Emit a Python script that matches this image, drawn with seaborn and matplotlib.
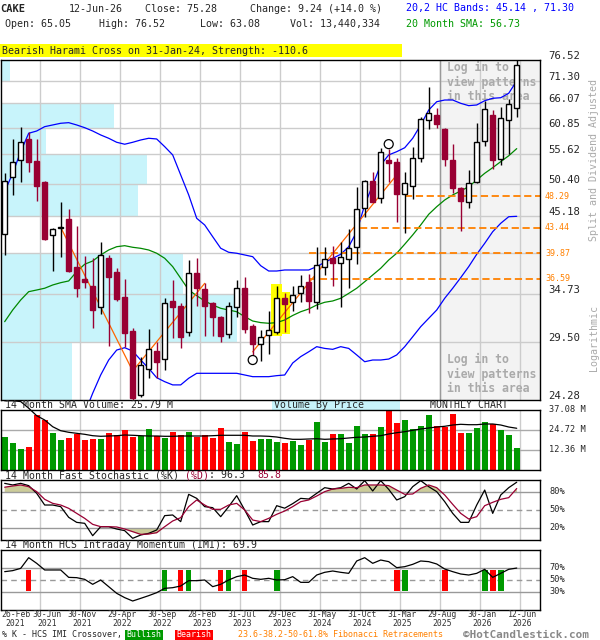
import numpy as np
import matplotlib
matplotlib.use("Agg")
import matplotlib.pyplot as plt
from matplotlib.patches import Rectangle
from matplotlib.ticker import NullLocator
from matplotlib.transforms import blended_transform_factory, ScaledTranslation
import seaborn as sns

# monthly candles, Feb 2021 .. Jun 2026 (index 0..64)
opens = [42.53, 51.61, 54.55, 58.61, 54.42, 50.74, 42.39, 43.45, 44.73, 38.05,
         36.54, 35.73, 33.27, 39.26, 37.45, 34.35, 30.65, 24.70, 26.96, 28.64,
         27.86, 33.92, 33.35, 30.57, 37.24, 35.32, 33.66, 32.10, 30.31, 33.21,
         35.41, 31.17, 29.36, 30.23, 30.57, 34.23, 33.77, 34.81, 36.14, 33.84,
         38.05, 39.26, 38.53, 39.08, 40.73, 46.38, 50.86, 47.97, 54.60, 54.18,
         48.63, 50.02, 54.91, 62.49, 63.57, 60.62, 54.60, 49.73, 47.38, 50.63,
         58.22, 63.56, 54.73, 62.49, 65.05]
highs = [52.26, 58.61, 61.10, 59.95, 58.61, 50.86, 43.44, 47.43, 46.27, 43.69,
         39.49, 39.17, 41.35, 39.62, 37.96, 36.54, 30.99, 28.10, 30.86, 29.56,
         34.23, 36.37, 33.66, 38.95, 39.26, 36.00, 33.84, 32.25, 33.77, 36.41,
         36.82, 31.38, 30.75, 32.79, 35.73, 34.81, 35.73, 37.03, 37.16, 40.73,
         40.65, 40.87, 41.35, 43.25, 49.78, 51.03, 52.36, 56.84, 56.60, 55.03,
         52.36, 57.03, 63.08, 69.79, 65.01, 60.90, 57.58, 49.90, 52.78, 61.78,
         66.62, 64.63, 65.37, 67.07, 76.52]
lows = [39.62, 48.52, 50.74, 52.48, 47.59, 41.67, 37.57, 39.39, 37.37, 34.35,
        35.41, 30.93, 32.43, 29.17, 33.95, 29.07, 24.28, 24.50, 26.18, 26.18,
        26.87, 29.90, 28.90, 30.13, 33.38, 30.16, 30.16, 29.50, 29.96, 32.10,
        30.49, 28.27, 27.70, 28.34, 30.31, 30.53, 32.79, 33.84, 32.61, 33.01,
        37.03, 35.73, 33.27, 35.41, 38.39, 45.08, 47.34, 47.18, 50.74, 44.33,
        42.71, 47.86, 54.29, 60.62, 60.90, 53.51, 48.79, 43.00, 46.48, 50.46,
        57.30, 52.96, 53.72, 55.66, 63.08]
closes = [50.86, 54.18, 57.96, 54.29, 50.07, 41.81, 43.25, 43.50, 37.53, 35.41,
          36.20, 32.90, 39.62, 36.82, 34.11, 30.41, 24.42, 27.33, 28.84, 27.57,
          33.66, 33.21, 30.06, 37.24, 35.48, 33.38, 32.17, 30.16, 33.35, 35.41,
          30.86, 29.36, 30.06, 30.72, 34.23, 33.61, 34.61, 35.69, 33.92, 38.30,
          39.08, 38.61, 39.39, 40.52, 46.22, 50.81, 47.43, 56.15, 53.99, 48.63,
          50.46, 55.03, 62.64, 63.92, 61.59, 54.73, 49.73, 47.59, 50.46, 57.96,
          64.85, 54.60, 62.85, 66.04, 75.28]
volume_m = [20.58, 16.87, 13.16, 14.40, 33.99, 30.90, 22.87, 18.54, 19.98, 22.25,
            18.54, 19.36, 19.36, 22.87, 21.84, 24.93, 20.39, 21.22, 25.55, 20.81,
            19.78, 23.69, 21.42, 23.69, 20.58, 21.42, 19.78, 26.16, 17.51, 16.26,
            23.69, 18.13, 19.36, 19.36, 17.51, 16.87, 18.13, 15.65, 18.75, 29.87,
            17.51, 22.45, 22.45, 16.87, 27.40, 22.45, 22.45, 26.78, 36.67, 29.25,
            31.11, 25.55, 27.40, 34.19, 27.40, 26.78, 34.81, 23.07, 23.07, 26.16,
            29.87, 28.63, 24.93, 21.84, 13.44]
vol_sma_m = [42.8, 42.8, 42.3, 38.2, 33.56, 30.90, 26.76, 24.29, 23.30, 22.68,
             22.06, 21.20, 20.83, 21.01, 21.20, 21.63, 21.45, 21.20, 21.01, 21.01,
             20.83, 20.83, 21.01, 21.01, 21.01, 21.01, 21.20, 21.45, 21.45, 21.45,
             21.45, 21.01, 21.01, 20.83, 20.39, 19.59, 18.97, 18.97, 19.16, 19.34,
             18.97, 19.16, 19.34, 19.78, 20.21, 20.39, 20.83, 21.20, 22.25, 23.05,
             23.67, 24.53, 25.34, 25.96, 26.57, 27.01, 27.81, 28.24, 28.00, 28.00,
             28.43, 28.43, 27.81, 26.57, 25.79]
band_upper = [49.06, 52.20, 56.15, 59.75, 60.21, 61.10, 61.45, 61.80, 61.93, 61.45,
              60.89, 60.21, 59.41, 58.75, 57.96, 57.58, 57.96, 58.41, 58.75, 58.61,
              57.11, 55.54, 51.91, 48.52, 44.84, 43.84, 42.14, 40.53, 39.98, 39.85,
              39.62, 39.39, 38.21, 37.53, 37.53, 37.66, 37.66, 37.66, 37.66, 38.09,
              38.65, 39.17, 39.71, 40.74, 42.86, 46.91, 50.19, 53.69, 55.54, 56.15,
              56.90, 58.75, 61.45, 64.63, 66.47, 66.85, 66.85, 66.11, 65.59, 65.74,
              66.69, 67.24, 67.37, 68.39, 71.30]
sma20 = [31.63, 32.90, 34.03, 35.00, 35.20, 35.41, 35.80, 36.08, 36.29, 37.45,
         38.40, 38.82, 39.62, 40.29, 40.74, 40.88, 40.66, 40.52, 40.29, 39.85,
         39.18, 38.09, 36.62, 35.20, 34.53, 33.92, 33.46, 33.09, 32.90, 32.71,
         32.17, 31.70, 31.53, 31.46, 31.53, 31.81, 32.30, 32.71, 33.01, 33.46,
         33.77, 33.92, 34.23, 34.80, 35.41, 36.20, 37.03, 37.88, 38.95, 39.85,
         41.08, 42.39, 43.84, 45.45, 46.63, 47.70, 48.52, 49.17, 49.90, 51.03,
         52.20, 53.20, 54.29, 55.38, 56.73]
lower_x = list(range(10, 65))
band_lower = [23.2, 24.84, 26.42, 27.79, 28.74, 28.97, 28.64, 27.79, 27.02, 26.18,
              25.83, 25.55, 25.55, 26.13, 26.57, 26.57, 26.57, 26.57, 26.57, 26.57,
              26.42, 26.27, 26.27, 26.27, 26.36, 26.42, 27.51, 28.11, 28.57, 29.07,
              28.90, 28.81, 29.07, 28.90, 28.27, 27.63, 27.79, 27.79, 27.88, 28.27,
              29.07, 30.06, 31.10, 31.99, 32.90, 34.23, 35.41, 36.70, 38.09, 39.71,
              41.21, 42.86, 44.09, 45.08, 45.14]
stoch_k = [94.4, 91.7, 94.4, 90.6, 77.8, 58.3, 58.3, 55.6, 37.8, 29.4,
           27.8, 7.2, 22.2, 22.2, 18.3, 15.6, 2.8, 8.3, 11.1, 16.7,
           40.6, 41.7, 30.6, 76.1, 69.4, 55.6, 53.9, 38.9, 55.6, 73.9,
           50.0, 25.0, 30.6, 30.6, 57.2, 53.0, 60.6, 69.4, 68.3, 77.8,
           87.2, 85.0, 87.2, 94.4, 85.0, 98.9, 81.7, 98.9, 84.4, 66.7,
           72.2, 88.9, 98.9, 88.9, 80.6, 63.9, 44.4, 29.4, 29.4, 58.3,
           83.3, 44.4, 75.0, 87.2, 96.3]
stoch_d = [88.0, 90.0, 91.7, 88.9, 80.6, 67.8, 61.1, 58.3, 52.8, 44.4,
           36.1, 26.1, 22.2, 22.2, 21.7, 18.3, 13.9, 9.4, 10.0, 12.2,
           22.2, 31.7, 37.2, 55.6, 66.7, 58.3, 51.1, 51.1, 58.3, 61.1,
           50.0, 33.3, 30.6, 36.1, 42.8, 48.3, 55.6, 63.9, 66.7, 73.3,
           80.6, 85.0, 86.1, 87.8, 87.2, 91.7, 91.7, 91.7, 90.6, 83.3,
           76.1, 76.7, 86.1, 91.7, 87.2, 75.0, 59.4, 44.4, 35.0, 38.9,
           57.2, 62.8, 67.8, 70.6, 85.8]
imi = [63.9, 65.6, 69.4, 87.2, 77.8, 66.7, 66.7, 66.7, 54.4, 53.9,
       51.1, 42.8, 50.0, 38.9, 27.8, 20.6, 15.0, 19.4, 23.9, 28.9,
       36.1, 37.2, 40.0, 48.9, 48.9, 50.0, 38.9, 42.8, 50.0, 55.6,
       58.3, 52.8, 51.1, 52.8, 50.0, 50.5, 55.6, 46.1, 46.1, 58.3,
       62.8, 65.0, 62.8, 61.1, 81.7, 87.2, 77.8, 83.3, 80.6, 70.6,
       72.2, 76.1, 81.7, 80.6, 76.7, 68.3, 63.9, 60.0, 58.3, 61.1,
       67.8, 54.4, 61.1, 67.8, 69.9]
bullish_x = [20, 23, 28, 34, 50, 60, 62]
bearish_x = [3, 22, 27, 30, 49, 55, 61]
pattern_x = [34, 35]
circle_x = [31, 48]
circle_y = [27.79, 57.6]
trend_segments = [([7, 16], [43.50, 26.78]),
                  ([16, 25], [26.78, 36.00]),
                  ([31, 49], [28.57, 51.91])]
fib_levels = [48.29, 43.44, 39.87, 36.59]
fib_start = [50, 44.4, 38, 38]
price_ticks = [24.28, 29.50, 34.73, 39.95, 45.18, 50.40, 55.62, 60.85, 66.07, 71.30, 76.52]
price_tick_labels = ["24.28", "29.50", "34.73", "", "45.18", "50.40", "55.62",
                     "60.85", "66.07", "71.30", "76.52"]
vbp_pct = [30, 100, 77, 0, 58, 62, 19, 48, 0.6, 4]
vol_ticks = [12.36, 24.72, 37.08]
date_idx = [0, 4, 9, 14, 19, 24, 29, 34, 39, 44, 49, 54, 59, 64]
date_labels = ["26-Feb\n2021", "30-Jun\n2021", "30-Nov\n2021", "29-Apr\n2022",
               "30-Sep\n2022", "28-Feb\n2023", "31-Jul\n2023", "29-Dec\n2023",
               "31-May\n2024", "31-Oct\n2024", "31-Mar\n2025", "29-Aug\n2025",
               "30-Jan\n2026", "12-Jun\n2026"]

MAROON = "#990033"
GREEN = "#009900"
RED = "#ff0000"
CYAN = "#c8f4fb"
ORANGE = "#ff8000"

sns.set_style("white")
plt.rcParams["font.family"] = ["DejaVu Sans Mono"]

W, H = 600, 640
fig = plt.figure(figsize=(W / 100, H / 100), dpi=100)


def add_panel(top, bottom):
    return fig.add_axes([1 / W, 1 - bottom / H, 539 / W, (bottom - top) / H])


def ftext(px, py, s, **kw):
    kw.setdefault("va", "center")
    kw.setdefault("fontsize", 7.2)
    fig.text(px / W, 1 - py / H, s, **kw)


def fbox(x0, y0, x1, y1, color):
    fig.add_artist(Rectangle((x0 / W, 1 - y1 / H), (x1 - x0) / W, (y1 - y0) / H,
                             transform=fig.transFigure, color=color, lw=0, zorder=0))


def px_shift(dx, dy=0):
    return ScaledTranslation(dx / 100, dy / 100, fig.dpi_scale_trans)


ax_p = add_panel(60, 400)
ax_v = add_panel(410, 470)
ax_s = add_panel(480, 540)
ax_i = add_panel(550, 610)

x = np.arange(len(closes))
xlim = (-0.46, 66.91)
grid_x = np.arange(4, 65, 5) + 0.45

# ---------------- price panel ----------------
ax_p.set_yscale("log")
ax_p.axvspan(54.45, xlim[1], color="#f3f3f3", lw=0, zorder=0.2)
lo = np.array(price_ticks[:-1])
hi = np.array(price_ticks[1:])
ax_p.barh(lo, np.array(vbp_pct) / 100 * 29.5, height=hi - lo, left=xlim[0],
          align="edge", color=CYAN, lw=0, zorder=0.4)
for v in price_ticks[1:-1]:
    ax_p.axhline(v, color="#cccccc", lw=1, zorder=0.6)
ax_p.axvline(54.45, color="#999999", lw=1, zorder=0.7)


def ptext(px, py, s, **kw):
    ax_p.text((px - 1) / 539, (400 - py) / 340, s, transform=ax_p.transAxes, **kw)


for j, line in enumerate(["Log in to", "view patterns", "in this area"]):
    for y0 in (67, 359):
        ptext(447, y0 + 15 * j, line, color="#aaaaaa", fontsize=8.3, fontweight="bold",
              va="center", ha="left", zorder=1.5, clip_on=True)

for i in pattern_x:
    ax_p.add_patch(Rectangle((i - 0.75, lows[i] / 1.006), 1.41,
                             highs[i] * 1.006 - lows[i] / 1.006,
                             color="#ffff00", lw=0, zorder=1))

sns.lineplot(x=x, y=band_upper, ax=ax_p, color="#0000ff", linewidth=0.9, zorder=2)
sns.lineplot(x=lower_x, y=band_lower, ax=ax_p, color="#0000ff", linewidth=0.9, zorder=2)
sns.lineplot(x=x, y=sma20, ax=ax_p, color="#008800", linewidth=0.9, zorder=2)
for tx, ty in trend_segments:
    sns.lineplot(x=tx, y=ty, ax=ax_p, color="#ff6600", linewidth=0.9, zorder=2)
for lvl, st in zip(fib_levels, fib_start):
    ax_p.hlines(lvl, st, xlim[1], colors=ORANGE, linestyles=(0, (4, 2)), lw=1.3, zorder=2)

for i in x:
    o, h, l, c = opens[i], highs[i], lows[i], closes[i]
    up = c >= o
    col = "black" if up else MAROON
    ax_p.vlines(i, l, h, color=col, lw=1, zorder=3)
    ax_p.add_patch(Rectangle((i - 0.33, min(o, c)), 0.66, abs(c - o),
                             facecolor="white" if up else col, edgecolor=col,
                             lw=1, zorder=4))
ax_p.scatter(circle_x, circle_y, s=42, facecolors="none", edgecolors="black",
             linewidths=0.9, zorder=5)

ax_p.set_ylim(price_ticks[0], price_ticks[-1])
ax_p.yaxis.set_minor_locator(NullLocator())
ax_p.set_yticks([])
tr_p = blended_transform_factory(ax_p.transAxes, ax_p.transData)
for v, lab in zip(price_ticks, price_tick_labels):
    ax_p.text(1.0148, v, lab, transform=tr_p + px_shift(0, 4),
              ha="left", va="center", fontsize=7.7)
for lvl in fib_levels:
    ax_p.text(1.0093, lvl, f"{lvl:.2f}", transform=tr_p, ha="left", va="center",
              fontsize=6, color=ORANGE)

# ---------------- volume panel ----------------
vol_colors = [GREEN if c >= o else RED for o, c in zip(opens, closes)]
ax_v.bar(x, volume_m, width=0.72, color=vol_colors, lw=0, zorder=2)
for v in vol_ticks[:2]:
    ax_v.axhline(v, color="#aaaaaa", lw=1, zorder=1)
sns.lineplot(x=x, y=vol_sma_m, ax=ax_v, color="black", linewidth=0.9, zorder=3, clip_on=False)
ax_v.set_ylim(0, vol_ticks[-1])
tr_v = blended_transform_factory(ax_v.transAxes, ax_v.transData)
for v in vol_ticks:
    ax_v.text(1.0167, v, f"{v:.2f} M", transform=tr_v, ha="left", va="center", fontsize=6.2)

# ---------------- stochastic panel ----------------
d = np.array(stoch_d)
ax_s.fill_between(x, 80, d, where=d >= 80, interpolate=True, color="#cccc99", lw=0, zorder=1)
ax_s.fill_between(x, 20, d, where=d <= 20, interpolate=True, color="#cccc99", lw=0, zorder=1)
for v in (80, 20):
    ax_s.axhline(v, color="#999999", lw=1, zorder=1.2)
ax_s.axhline(50, color="#999999", lw=1, ls=(0, (4, 3)), zorder=1.2)
sns.lineplot(x=x, y=stoch_k, ax=ax_s, color="black", linewidth=0.9, zorder=3)
sns.lineplot(x=x, y=stoch_d, ax=ax_s, color=MAROON, linewidth=0.9, zorder=3)
ax_s.set_ylim(0, 100)
tr_s = blended_transform_factory(ax_s.transAxes, ax_s.transData)
for v in (80, 50, 20):
    ax_s.text(1.0167, v, f"{v}%", transform=tr_s, ha="left", va="center", fontsize=6.2)

# ---------------- IMI panel ----------------
for v in (70, 30):
    ax_i.axhline(v, color="#999999", lw=1, zorder=1.2)
ax_i.axhline(50, color="#999999", lw=1, ls=(0, (4, 3)), zorder=1.2)
ax_i.bar(bullish_x, 35, bottom=32.5, width=0.7, color=GREEN, lw=0, zorder=2)
ax_i.bar(bearish_x, 35, bottom=32.5, width=0.7, color=RED, lw=0, zorder=2)
sns.lineplot(x=x, y=imi, ax=ax_i, color="black", linewidth=0.9, zorder=3)
ax_i.set_ylim(0, 100)
tr_i = blended_transform_factory(ax_i.transAxes, ax_i.transData)
for v in (70, 50, 30):
    ax_i.text(1.0167, v, f"{v}%", transform=tr_i, ha="left", va="center", fontsize=6.2)
tr_d = blended_transform_factory(ax_i.transData, ax_i.transAxes)
for idx, lab in zip(date_idx, date_labels):
    kw = dict(va="top", multialignment="center", fontsize=5.9, color="#333333",
              linespacing=0.86)
    if idx == 0:
        ax_i.text(xlim[0], -0.008, lab, transform=tr_d, ha="left", **kw)
    elif idx == 4:
        ax_i.text(idx + 0.45, -0.008, lab, transform=tr_d + px_shift(7), ha="center", **kw)
    else:
        ax_i.text(idx + 0.45, -0.008, lab, transform=tr_d + px_shift(2), ha="center", **kw)

# common panel styling
for ax in (ax_p, ax_v, ax_s, ax_i):
    ax.set_xlim(*xlim)
    ax.set_xticks([])
    if ax is not ax_p:
        ax.set_yticks([])
    ax.set_xlabel("")
    ax.set_ylabel("")
    for gx in grid_x:
        ax.axvline(gx, color="#cccccc", lw=1, zorder=0.6)
    for sp in ax.spines.values():
        sp.set_visible(True)
        sp.set_color("black")
        sp.set_linewidth(1)

# ---------------- header and labels ----------------
ftext(0, 8.5, "CAKE", fontweight="bold", fontsize=7.5)
ftext(69, 8.5, "12-Jun-26")
ftext(145, 8.5, "Close: 75.28")
ftext(250, 8.5, "Change: 9.24 (+14.0 %)")
ftext(406, 8.5, "20,2 HC Bands: 45.14 , 71.30", color="#0000ff")
ftext(5, 24, "Open: 65.05")
ftext(99, 24, "High: 76.52")
ftext(200, 24, "Low: 63.08")
ftext(290, 24, "Vol: 13,440,334")
ftext(406, 24, "20 Month SMA: 56.73", color=GREEN)

fbox(0, 44, 402, 57, "#ffff00")
ftext(2, 50.5, "Bearish Harami Cross on 31-Jan-24, Strength: -110.6")

ftext(5, 405.5, "14 Month SMA Volume: 25.79 M", fontsize=7.1)
fbox(272, 400.5, 400, 409.5, CYAN)
ftext(274, 405.5, "Volume By Price", fontsize=7.1)
ftext(430, 405.5, "MONTHLY CHART", fontsize=7.1)

ftext(5, 475.5, "14 Month Fast Stochastic (%K)", fontsize=7.1)
ftext(185, 475.5, "(%D)", fontsize=7.1, color=MAROON)
ftext(209, 475.5, ": 96.3", fontsize=7.1)
ftext(257, 475.5, "85.8", fontsize=7.1, color=MAROON)
ftext(5, 545.5, "14 Month HCS Intraday Momentum (IMI): 69.9", fontsize=7.1)

ftext(594, 160, "Split and Dividend Adjusted", rotation=90, ha="center",
      color="#aaaaaa", fontsize=7.2)
ftext(594, 338, "Logarithmic", rotation=90, ha="center", color="#aaaaaa", fontsize=7.2)

ftext(2, 634.5, "% K - HCS IMI Crossover,", fontsize=6)
fbox(125, 629.5, 163, 639.5, GREEN)
ftext(144, 634.5, "Bullish", fontsize=6, color="white", ha="center")
fbox(175, 629.5, 213, 639.5, RED)
ftext(194, 634.5, "Bearish", fontsize=6, color="white", ha="center")
ftext(238, 634.5, "23.6-38.2-50-61.8% Fibonacci Retracements", fontsize=6, color=ORANGE)
ftext(463, 639.8, "\u00a9HotCandlestick.com", fontsize=7.9, fontweight="bold",
      color="#888888", va="bottom")

fig.savefig("out.png", dpi=100)
